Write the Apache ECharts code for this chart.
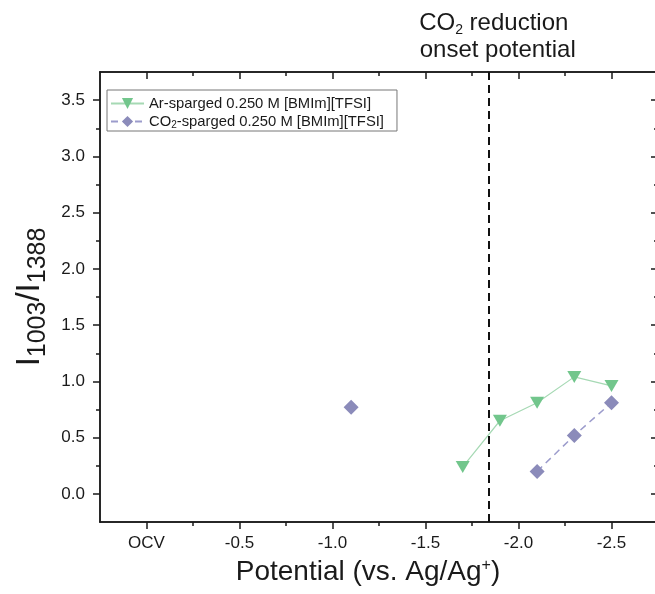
<!DOCTYPE html>
<html>
<head>
<meta charset="utf-8">
<script src="https://cdn.jsdelivr.net/npm/echarts@6/dist/echarts.min.js"></script>
<style>
html,body{margin:0;padding:0;background:#fff;}
#chart{width:655px;height:594px;}
</style>
</head>
<body>
<div id="chart"></div>
<script>
// ---- data ----
const potentialTicks = [0, -0.5, -1.0, -1.5, -2.0, -2.5];
const potentialTickLabels = ['OCV', '-0.5', '-1.0', '-1.5', '-2.0', '-2.5'];
const potentialMinorTicks = [-0.25, -0.75, -1.25, -1.75, -2.25];
const ratioTicks = [0, 0.5, 1.0, 1.5, 2.0, 2.5, 3.0, 3.5];
const ratioTickLabels = ['0.0', '0.5', '1.0', '1.5', '2.0', '2.5', '3.0', '3.5'];
const ratioMinorTicks = [0.25, 0.75, 1.25, 1.75, 2.25, 2.75, 3.25];

const arName = 'Ar-sparged 0.250 M [BMIm][TFSI]';
const arPotential = [-1.7, -1.9, -2.1, -2.3, -2.5];
const arRatio = [0.24, 0.65, 0.81, 1.04, 0.96];

const co2Name = 'CO2-sparged 0.250 M [BMIm][TFSI]';
const co2Potential = [-1.1, null, -2.1, -2.3, -2.5];
const co2Ratio = [0.77, null, 0.20, 0.52, 0.81];

const onsetPotential = -1.84;

// ---- chart ----
const FONT = "'Liberation Sans', Arial, sans-serif";
const INK = '#1a1a1a';
const X_MIN = -2.75, X_MAX = 0.25, Y_MIN = -0.25, Y_MAX = 3.75;

function pairs(xs, ys) {
  return xs.map((x, i) => (x === null || ys[i] === null) ? [NaN, NaN] : [x, ys[i]]);
}

function xAx(pos, ticks, len, inside, labels, extra) {
  return Object.assign({
    type: 'value', position: pos, min: X_MIN, max: X_MAX, inverse: true,
    axisLine: { show: true, onZero: false, lineStyle: { color: INK, width: 1.5 } },
    axisTick: { show: true, customValues: ticks, length: len, inside: inside, lineStyle: { color: INK, width: 1.5 } },
    axisLabel: labels ? {
      show: true, customValues: potentialTicks, margin: 13,
      formatter: v => { const i = potentialTicks.findIndex(t => Math.abs(t - v) < 1e-9); return i >= 0 ? potentialTickLabels[i] : ''; },
      color: INK, fontSize: 17, fontFamily: FONT
    } : { show: false },
    splitLine: { show: false }
  }, extra || {});
}

function yAx(pos, ticks, len, inside, labels, extra) {
  return Object.assign({
    type: 'value', position: pos, min: Y_MIN, max: Y_MAX,
    axisLine: { show: true, onZero: false, lineStyle: { color: INK, width: 1.5 } },
    axisTick: { show: true, customValues: ticks, length: len, inside: inside, lineStyle: { color: INK, width: 1.5 } },
    axisLabel: labels ? {
      show: true, customValues: ratioTicks, margin: 15,
      formatter: v => { const i = ratioTicks.findIndex(t => Math.abs(t - v) < 1e-9); return i >= 0 ? ratioTickLabels[i] : ''; },
      color: INK, fontSize: 17, fontFamily: FONT
    } : { show: false },
    splitLine: { show: false }
  }, extra || {});
}

const chart = echarts.init(document.getElementById('chart'), null, { renderer: 'canvas' });

const option = {
  animation: false,
  backgroundColor: '#fff',
  textStyle: { fontFamily: FONT },
  grid: { left: 100, top: 72, width: 558, height: 450, containLabel: false, outerBoundsMode: 'none' },
  xAxis: [
    xAx('bottom', potentialTicks, 7, false, true, {
      name: '{a|Potential (vs. Ag/Ag}{p|+}{a|)}',
      nameLocation: 'middle', nameGap: 36,
      nameTextStyle: {
        padding: [0, 22, 0, 0],
        rich: {
          a: { fontSize: 28, fontFamily: FONT, color: INK },
          p: { fontSize: 16, fontFamily: FONT, color: INK, verticalAlign: 'top', padding: [0, 0, 10, 0] }
        }
      }
    }),
    xAx('bottom', potentialMinorTicks, 4, false, false),
    xAx('top', potentialTicks, 7, true, false),
    xAx('top', potentialMinorTicks, 4, true, false)
  ],
  yAxis: [
    yAx('left', ratioTicks, 7, false, true, {
      name: '{a|I}{s|1003}{a|/I}{s|1388}',
      nameLocation: 'middle', nameGap: 45,
      nameTextStyle: {
        rich: {
          a: { fontSize: 33, fontFamily: FONT, color: INK },
          s: { fontSize: 25, fontFamily: FONT, color: INK, verticalAlign: 'bottom', padding: [17, 0, 0, 0] }
        }
      }
    }),
    yAx('left', ratioMinorTicks, 4, false, false),
    yAx('right', ratioTicks, 7, true, false),
    yAx('right', ratioMinorTicks, 4, true, false)
  ],
  legend: {
    orient: 'vertical', left: 107, top: 90,
    data: [arName, co2Name],
    itemWidth: 33, itemHeight: 14, itemGap: 3,
    padding: [6, 13, 1, 3],
    borderColor: '#777', borderWidth: 1, backgroundColor: '#fff',
    formatter: name => name.startsWith('CO2')
      ? '{t|CO}{s|2}{t|' + name.slice(3) + '}'
      : '{t|' + name + '}',
    textStyle: {
      color: INK, fontFamily: FONT,
      rich: {
        t: { fontSize: 14.8, fontFamily: FONT, color: INK },
        s: { fontSize: 10, fontFamily: FONT, color: INK, verticalAlign: 'bottom', padding: [7, 0, 0, 0] }
      }
    }
  },
  series: [
    {
      name: arName, type: 'line', xAxisIndex: 0, yAxisIndex: 0,
      data: pairs(arPotential, arRatio),
      symbol: 'triangle', symbolRotate: 180, symbolSize: [14, 12],
      itemStyle: { color: '#72c68c' },
      lineStyle: { color: '#a6d9b4', width: 1.2 },
      z: 3,
      markLine: {
        silent: true, symbol: ['none', 'none'], animation: false,
        lineStyle: { color: '#111', type: [8, 5], width: 2 },
        label: {
          show: true, position: 'end', distance: 8,
          padding: [0, 0, 0, 18],
          formatter: '{a|CO}{s|2}{b| reduction}\n{a|onset potential}',
          rich: {
            a: { fontSize: 24, fontFamily: FONT, color: INK, lineHeight: 27 },
            b: { fontSize: 24, fontFamily: FONT, color: INK, lineHeight: 27, padding: [0, 8, 0, 0] },
            s: { fontSize: 14, fontFamily: FONT, color: INK, verticalAlign: 'bottom', padding: [11, 0, 0, 0] }
          }
        },
        data: [{ xAxis: onsetPotential }]
      }
    },
    {
      name: co2Name, type: 'line', xAxisIndex: 0, yAxisIndex: 0,
      data: pairs(co2Potential, co2Ratio),
      connectNulls: false,
      symbol: 'diamond', symbolSize: 15,
      itemStyle: { color: '#8b8bba' },
      lineStyle: { color: '#9c9ccc', width: 1.5, type: [7, 5] },
      z: 3
    }
  ]
};

chart.setOption(option);
</script>
</body>
</html>
